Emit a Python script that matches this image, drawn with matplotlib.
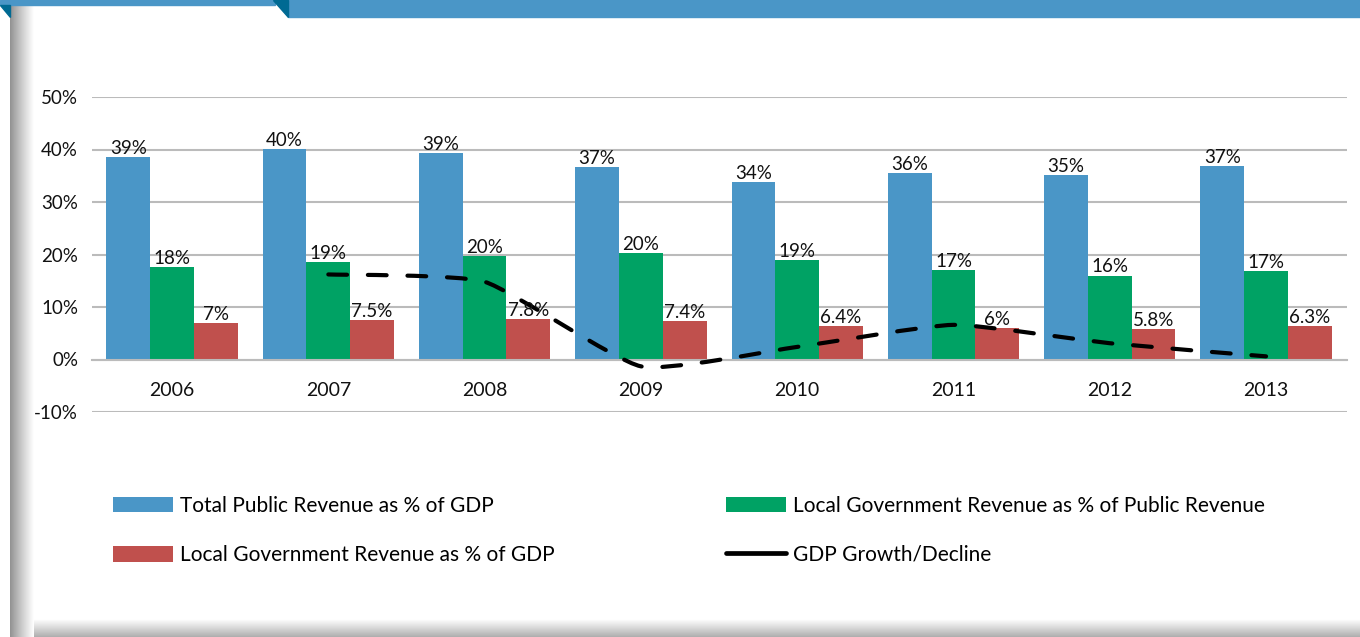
import numpy as np
import matplotlib
matplotlib.use("Agg")
from matplotlib import pyplot as plt
from matplotlib.path import Path
from matplotlib.patches import PathPatch, Rectangle, Polygon
from matplotlib.lines import Line2D

plt.rcParams['font.family'] = ['Lato', 'DejaVu Sans']

years = ['2006', '2007', '2008', '2009', '2010', '2011', '2012', '2013']
total_rev = [38.6, 40.1, 39.3, 36.6, 33.8, 35.5, 35.1, 36.8]
local_of_public = [17.7, 18.6, 19.8, 20.2, 18.9, 17.0, 16.0, 16.8]
local_of_gdp = [7.0, 7.5, 7.8, 7.4, 6.4, 6.0, 5.8, 6.3]
gdp_years = ['2007', '2008', '2009', '2010', '2011', '2012', '2013']
gdp_growth = [16.2, 14.8, -1.3, 2.4, 6.6, 3.1, 0.6]

blue = '#4A96C7'
green = '#00A264'
red = '#C0504D'

fig = plt.figure(figsize=(13.6, 6.37), dpi=100)

# page frame: blue header strip, shadows on the left and bottom
fig.patches.append(Rectangle((0, 1 - 5 / 637), 275 / 1360, 5 / 637, transform=fig.transFigure,
                             color=blue, zorder=0))
fig.patches.append(Rectangle((288 / 1360, 1 - 17 / 637), 1 - 288 / 1360, 17 / 637,
                             transform=fig.transFigure, color=blue, zorder=0))
fig.patches.append(Polygon([(273 / 1360, 1), (288 / 1360, 1), (288 / 1360, 1 - 17 / 637)],
                           transform=fig.transFigure, color='#006A93', zorder=0))
fig.patches.append(Polygon([(0, 1 - 5 / 637), (10 / 1360, 1 - 5 / 637), (10 / 1360, 1 - 17 / 637)],
                           transform=fig.transFigure, color='#006A93', zorder=0))
bottom = fig.add_axes([10 / 1360, 0, 1 - 10 / 1360, 18 / 637], zorder=-2)
bottom.imshow(np.linspace(0.62, 1.0, 40)[:, None] ** 0.8, aspect='auto', cmap='gray',
              vmin=0, vmax=1, extent=[0, 1, 0, 1], origin='lower')
bottom.axis('off')
shade = fig.add_axes([10 / 1360, 0, 24 / 1360, 1 - 6 / 637], zorder=-1)
shade.imshow(np.linspace(0.45, 1.0, 60)[None, :] ** 0.7, aspect='auto', cmap='gray',
             vmin=0, vmax=1, extent=[0, 1, 0, 1])
shade.axis('off')

ax = fig.add_axes([92 / 1360, 1 - 412 / 637, 1255 / 1360, 315 / 637])

x = np.arange(len(years))
w = 0.28
b1 = ax.bar(x - w, total_rev, w, color=blue, label='Total Public Revenue as % of GDP', zorder=2)
b2 = ax.bar(x, local_of_public, w, color=green,
            label='Local Government Revenue as % of Public Revenue', zorder=2)
b3 = ax.bar(x + w, local_of_gdp, w, color=red, label='Local Government Revenue as % of GDP', zorder=2)

def fmt(v, nd):
    s = ('%.' + str(nd) + 'f') % v
    if '.' in s:
        s = s.rstrip('0').rstrip('.')
    return s + '%'

for bars, vals, nd in [(b1, total_rev, 0), (b2, local_of_public, 0), (b3, local_of_gdp, 1)]:
    for r, v in zip(bars, vals):
        ax.annotate(fmt(v, nd), (r.get_x() + r.get_width() / 2, r.get_height()),
                    xytext=(0, 0), textcoords='offset points', ha='center', va='bottom',
                    fontsize=13.5, color='#111111', zorder=4)

# smoothed GDP line, cubic Bezier segments with gentle tension
gx = np.array([years.index(y) for y in gdp_years], dtype=float)
gy = np.array(gdp_growth, dtype=float)
pts = np.column_stack([gx, gy])
ext = np.vstack([pts[0], pts, pts[-1]])
verts = [pts[0]]
codes = [Path.MOVETO]
for i in range(len(pts) - 1):
    p0, p1, p2, p3 = ext[i], ext[i + 1], ext[i + 2], ext[i + 3]
    verts += [p1 + (p2 - p0) / 12, p2 - (p3 - p1) / 12, p2]
    codes += [Path.CURVE4] * 3
ax.add_patch(PathPatch(Path(verts, codes), fill=False, edgecolor='black', lw=3,
                       linestyle=(0, (4.5, 5.0)), capstyle='round', zorder=3))

ax.set_xlim(-0.512, 7.518)
ax.set_ylim(-10, 50)
ax.spines['bottom'].set_position(('data', 0))
ax.spines['bottom'].set_color('#BBBBBB')
ax.spines['bottom'].set_linewidth(1.5)
for s in ['top', 'right', 'left']:
    ax.spines[s].set_visible(False)
ax.set_yticks(np.arange(-10, 51, 10))
ax.set_yticklabels(['%d%%' % t for t in range(-10, 51, 10)])
ax.set_xticks(x)
ax.set_xticklabels(years)
ax.yaxis.grid(True, color='#BBBBBB', lw=1.5, zorder=0)
ax.set_axisbelow(True)
ax.tick_params(axis='x', length=0, pad=16, labelsize=14, labelcolor='#111111')
ax.tick_params(axis='y', length=0, pad=10, labelsize=13.5, labelcolor='#111111')

gdp_handle = Line2D([], [], color='black', lw=3.4, solid_capstyle='round', label='GDP Growth/Decline')
handles = [b1, b3, b2, gdp_handle]
labels = [h.get_label() for h in handles]
fig.legend(handles, labels, loc='upper left', bbox_to_anchor=(94 / 1360, 1 - 477 / 637),
           ncol=2, frameon=False, fontsize=15, handlelength=2.9, handleheight=0.8,
           handletextpad=0.33, labelspacing=1.4, columnspacing=8.2)

plt.savefig('out.png', dpi=100)
